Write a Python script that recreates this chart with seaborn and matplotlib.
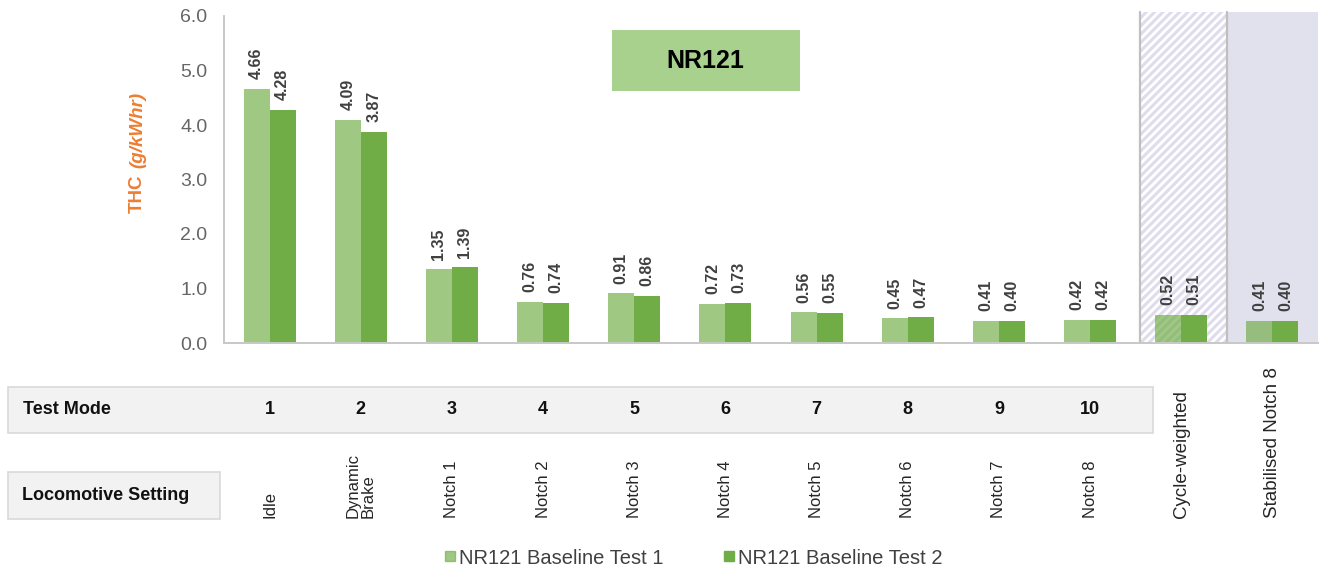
import numpy as np
import pandas as pd
import seaborn as sns
import matplotlib
matplotlib.use('Agg')
import matplotlib.pyplot as plt
import matplotlib.transforms as mtransforms
from matplotlib.patches import Rectangle
from matplotlib.lines import Line2D

# data
settings = ['Idle', 'Dynamic\nBrake', 'Notch 1', 'Notch 2', 'Notch 3', 'Notch 4',
            'Notch 5', 'Notch 6', 'Notch 7', 'Notch 8', 'Cycle-weighted', 'Stabilised Notch 8']
test_modes = ['1', '2', '3', '4', '5', '6', '7', '8', '9', '10', '', '']
test1 = [4.66, 4.09, 1.35, 0.76, 0.91, 0.72, 0.56, 0.45, 0.41, 0.42, 0.52, 0.41]
test2 = [4.28, 3.87, 1.39, 0.74, 0.86, 0.73, 0.55, 0.47, 0.40, 0.42, 0.51, 0.40]
series = ['NR121 Baseline Test 1', 'NR121 Baseline Test 2']

df = pd.DataFrame({'setting': settings * 2,
                   'series': [series[0]] * len(test1) + [series[1]] * len(test2),
                   'thc': test1 + test2})

sns.set_theme(style='white')
plt.rcParams['font.family'] = ['Liberation Sans', 'DejaVu Sans']
plt.rcParams['hatch.linewidth'] = 2.2

W, H = 1319, 574
fig = plt.figure(figsize=(W / 100, H / 100), dpi=100)
ax = fig.add_axes([224 / W, (H - 343) / H, (1318 - 224) / W, (343 - 16) / H])

dark = '#70ad47'
sns.barplot(data=df, x='setting', y='thc', hue='series', order=settings, hue_order=series,
            palette=[dark, dark], width=0.57, gap=0, saturation=1, errorbar=None,
            linewidth=0, legend=False, ax=ax)
for p in ax.containers[0]:
    p.set_alpha(0.67)

for c in ax.containers:
    ax.bar_label(c, fmt='%.2f', rotation=90, padding=7, fontsize=11.5,
                 fontweight='bold', color='#404040')

# shaded areas for the two summary columns
trans = mtransforms.blended_transform_factory(ax.transData, ax.transAxes)
top = 1 + 4 / 327
ax.add_patch(Rectangle((9.547, 0), 10.5 - 9.547, top, transform=trans, facecolor='white',
                       edgecolor='#dedced', hatch='////', lw=0, zorder=0.5, clip_on=False))
ax.add_patch(Rectangle((10.5, 0), 1.0, top, transform=trans, facecolor='#e1e0ed',
                       lw=0, zorder=0.5, clip_on=False))
for xv in [9.547, 10.5]:
    ax.plot([xv, xv], [0, top], transform=trans, color='#bfbfbf', lw=1.6,
            clip_on=False, zorder=0.6)

ax.set_xlim(-0.5, 11.5)
ax.set_ylim(0, 6)
ax.set_yticks(np.arange(0, 6.1, 1.0))
ax.yaxis.set_major_formatter(matplotlib.ticker.FormatStrFormatter('%.1f'))
ax.tick_params(axis='y', labelsize=14, colors='#666666', length=0, pad=12)
ax.tick_params(axis='x', length=0)
ax.set_xticklabels([])
ax.set_xlabel('')
ax.set_ylabel('')
sns.despine(ax=ax)
for s in ['left', 'bottom']:
    ax.spines[s].set_color('#c8c8c8')
    ax.spines[s].set_linewidth(1.4)

# y axis title
fig.text(137 / W, 1 - 213 / H, 'THC', rotation=90, ha='center', va='bottom',
         color='#ed7d31', fontsize=13.5, fontweight='bold')
fig.text(138 / W, 1 - 168 / H, '(g/kWhr)', rotation=90, ha='center', va='bottom',
         color='#ed7d31', fontsize=13.5, fontweight='bold', fontstyle='italic')

# title box
fig.add_artist(Rectangle((612 / W, 1 - 91 / H), 188 / W, 61 / H, transform=fig.transFigure,
                         facecolor='#a9d18e', lw=0))
fig.text(705 / W, 1 - 61 / H, 'NR121', ha='center', va='center', fontsize=18,
         fontweight='bold', color='black')

# table rows under the chart (behind the texts)
fig.add_artist(Rectangle((8 / W, 1 - 433 / H), (1153 - 8) / W, 46 / H, transform=fig.transFigure,
                         facecolor='#f2f2f2', edgecolor='#d9d9d9', lw=1.2, zorder=-1))
fig.add_artist(Rectangle((8 / W, 1 - 519 / H), (220 - 8) / W, 47 / H, transform=fig.transFigure,
                         facecolor='#f2f2f2', edgecolor='#d9d9d9', lw=1.2, zorder=-1))
fig.text(23 / W, 1 - 410 / H, 'Test Mode', ha='left', va='center', fontsize=13,
         fontweight='bold', color='#111111')
fig.text(22 / W, 1 - 495 / H, 'Locomotive Setting', ha='left', va='center', fontsize=13,
         fontweight='bold', color='#111111')

tr_fig = mtransforms.blended_transform_factory(ax.transData, fig.transFigure)
ticks = ax.get_xticks()
for x, m in zip(ticks, test_modes):
    fig.text(x, 1 - 410 / H, m, transform=tr_fig, ha='center', va='center', fontsize=13,
             fontweight='bold', color='#111111')
for i, (x, s) in enumerate(zip(ticks, settings)):
    size = 13.5 if i >= 10 else 12
    fig.text(x, 1 - 518 / H, s, transform=tr_fig, rotation=90, ha='center', va='bottom',
             multialignment='left', fontsize=size, color='#262626', linespacing=0.95)

handles = [Line2D([], [], marker='s', ls='', color=dark, alpha=0.67, markersize=6.5),
           Line2D([], [], marker='s', ls='', color=dark, markersize=6.5)]
fig.legend(handles, series, loc='center', bbox_to_anchor=(694 / W, 1 - 558 / H), ncol=2,
           frameon=False, fontsize=14.5, handlelength=0.5, handletextpad=0.2,
           columnspacing=3.0, labelcolor='#404040')

fig.savefig('out.png', dpi=100)
